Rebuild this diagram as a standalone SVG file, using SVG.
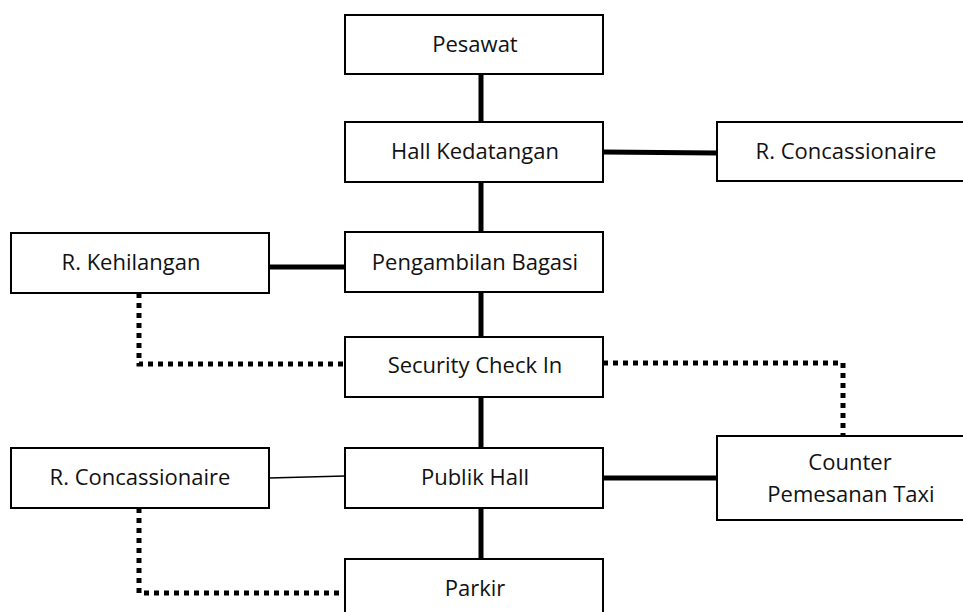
<svg xmlns="http://www.w3.org/2000/svg" width="963" height="612" viewBox="0 0 963 612">
<style>
.box{fill:#fff;stroke:#000;stroke-width:2}
.t{font-family:"Open Sans","Liberation Sans",sans-serif;font-size:22px;fill:#111;text-anchor:middle}
.thick{stroke:#000;stroke-width:5;fill:none}
.thin{stroke:#000;stroke-width:1.5;fill:none}
.dot{stroke:#000;stroke-width:5;fill:none;stroke-dasharray:5 5}
</style>
<rect width="963" height="612" fill="#fff"/>
<g id="connectors">
<line class="thick" x1="481" y1="74" x2="481" y2="122"/>
<line class="thick" x1="603" y1="152" x2="717" y2="153"/>
<line class="thick" x1="481" y1="182" x2="481" y2="232"/>
<line class="thick" x1="269" y1="267" x2="345" y2="267"/>
<line class="thick" x1="481" y1="292" x2="481" y2="337"/>
<polyline class="dot" points="139,293 139,364 345,364"/>
<polyline class="dot" points="603,363 843,363 843,436"/>
<line class="thick" x1="481" y1="397" x2="481" y2="448"/>
<line class="thick" x1="603" y1="478" x2="717" y2="478"/>
<line class="thin" x1="269" y1="478" x2="345" y2="476"/>
<line class="thick" x1="481" y1="508" x2="481" y2="559"/>
<polyline class="dot" points="139,508 139,593 345,593"/>
</g>
<g id="pesawat"><rect class="box" x="345" y="15" width="258" height="59"/><text class="t" x="475" y="52">Pesawat</text></g>
<g id="hall-kedatangan"><rect class="box" x="345" y="122" width="258" height="60"/><text class="t" x="475" y="159">Hall Kedatangan</text></g>
<g id="r-concassionaire-1"><rect class="box" x="717" y="122" width="258" height="59"/><text class="t" x="846" y="159">R. Concassionaire</text></g>
<g id="pengambilan-bagasi"><rect class="box" x="345" y="232" width="258" height="60"/><text class="t" x="475" y="270">Pengambilan Bagasi</text></g>
<g id="r-kehilangan"><rect class="box" x="11" y="233" width="258" height="60"/><text class="t" x="131" y="270">R. Kehilangan</text></g>
<g id="security-check-in"><rect class="box" x="345" y="337" width="258" height="60"/><text class="t" x="475" y="373">Security Check In</text></g>
<g id="publik-hall"><rect class="box" x="345" y="448" width="258" height="60"/><text class="t" x="475" y="485">Publik Hall</text></g>
<g id="r-concassionaire-2"><rect class="box" x="11" y="448" width="258" height="60"/><text class="t" x="140" y="485">R. Concassionaire</text></g>
<g id="counter-taxi"><rect class="box" x="717" y="436" width="258" height="84"/><text class="t" x="850" y="470">Counter</text><text class="t" x="851" y="502">Pemesanan Taxi</text></g>
<g id="parkir"><rect class="box" x="345" y="559" width="258" height="60"/><text class="t" x="475" y="596">Parkir</text></g>
</svg>
